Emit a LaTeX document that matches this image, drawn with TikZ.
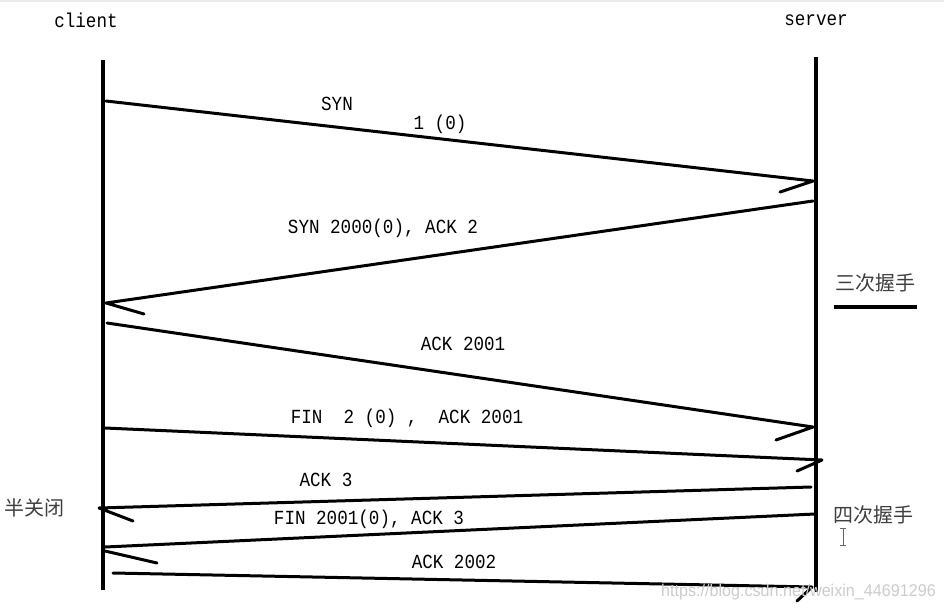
\documentclass[tikz,border=0pt]{standalone}
\usepackage{fontspec}
\newfontfamily\monof[FakeStretch=0.88]{Liberation Mono}
\newfontfamily\cjk{Noto Sans CJK SC}
\newfontfamily\wmfont[FakeStretch=0.95]{Liberation Sans}
\begin{document}
\begin{tikzpicture}[x=1pt,y=-1pt,
  lifeline/.style={line width=4.5pt},
  msg/.style={line width=3pt,line cap=round,line join=round},
  lbl/.style={font=\monof\fontsize{20}{22}\selectfont,inner sep=0pt},
  cjkl/.style={font=\cjk\fontsize{20}{22}\selectfont,inner sep=0pt,text=black!75}]
\useasboundingbox (0,0) rectangle (944,610);
\fill[white] (0,0) rectangle (944,610);
\fill[black!8] (0,0) rectangle (944,2);
% headers
\node[lbl] (client) at (86,20) {client};
\node[lbl] (server) at (816,20) {server};
% lifelines
\coordinate (ct) at (103,60); \coordinate (cb) at (103,590);
\coordinate (st) at (816,57); \coordinate (sb) at (816,592);
\draw[lifeline] (ct) -- (cb);
\draw[lifeline] (st) -- (sb);
% message end points
\coordinate (m1s) at (106,101); \coordinate (m1e) at (813,181); \coordinate (m1h) at (780,192);
\coordinate (m2s) at (813,201); \coordinate (m2e) at (106,303); \coordinate (m2h) at (144,314);
\coordinate (m3s) at (107,323); \coordinate (m3e) at (813,427); \coordinate (m3h) at (776,440);
\coordinate (m4s) at (105,428); \coordinate (m4e) at (822,460); \coordinate (m4h) at (797,471);
\coordinate (m5s) at (811,487); \coordinate (m5e) at (99,508);  \coordinate (m5h) at (133,521);
\coordinate (m6s) at (815,514); \coordinate (m6e) at (105,547); \coordinate (m6h) at (157,563);
\coordinate (m6b) at (105,551);
\coordinate (m7s) at (113,573); \coordinate (m7e) at (812,587); \coordinate (m7h) at (797,601);
\draw[msg] (m1s) -- (m1e) -- (m1h);
\draw[msg] (m2s) -- (m2e) -- (m2h);
\draw[msg] (m3s) -- (m3e) -- (m3h);
\draw[msg] (m4s) -- (m4e) -- (m4h);
\draw[msg] (m5s) -- (m5e) -- (m5h);
\draw[msg] (m6s) -- (m6e);
\draw[msg] (m6b) -- (m6h);
\draw[msg] (m7s) -- (m7e) -- (m7h);
% labels
\node[lbl] (l1a) at (337,104) {SYN};
\node[lbl] (l1b) at (440,124) {1\ (0)};
\node[lbl] (l2) at (383,228) {SYN\ 2000(0),\ ACK\ 2};
\node[lbl] (l3) at (463,344) {ACK\ 2001};
\node[lbl] (l4) at (407,418) {FIN\ \ 2\ (0)\ ,\ \ ACK\ 2001};
\node[lbl] (l5) at (326,480) {ACK\ 3};
\node[lbl] (l6) at (369,519) {FIN\ 2001(0),\ ACK\ 3};
\node[lbl] (l7) at (454,562) {ACK\ 2002};
% side notes
\node[cjkl] (three) at (875,283) {三次握手};
\coordinate (ul1) at (834,307); \coordinate (ul2) at (917,307);
\draw[line width=3.5pt] (ul1) -- (ul2);
\node[cjkl] (four) at (873,515) {四次握手};
\node[cjkl] (half) at (35,508) {半关闭};
% I-beam cursor
\coordinate (ib1) at (843,528); \coordinate (ib2) at (843,545);
\draw[black!60,line width=0.8pt] (ib1) -- (ib2) (840,528) -- (846,528) (840,545) -- (846,545);
% watermark
\node[font=\wmfont\fontsize{17}{19}\selectfont,text=black!20,inner sep=0pt,anchor=east] (wm) at (936,592) {https://blog.csdn.net/weixin\_44691296};
\end{tikzpicture}
\end{document}
